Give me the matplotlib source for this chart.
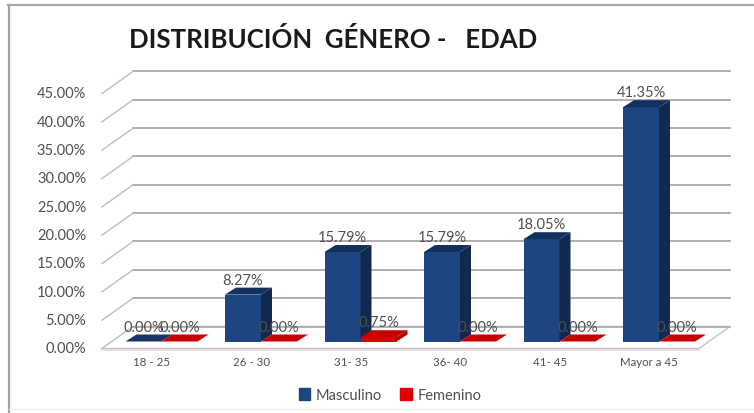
import matplotlib
matplotlib.use('Agg')
import matplotlib.pyplot as plt
from matplotlib.lines import Line2D
from matplotlib.patches import Patch

plt.rcParams['font.family'] = ['Lato', 'DejaVu Sans']

categorias = ['18 - 25', '26 - 30', '31- 35', '36- 40', '41- 45', 'Mayor a 45']
masculino = [0.00, 8.27, 15.79, 15.79, 18.05, 41.35]
femenino = [0.00, 0.00, 0.75, 0.00, 0.00, 0.00]
ticks = [0, 5, 10, 15, 20, 25, 30, 35, 40, 45]

W, H = 754, 414
X0, CAT_PX = 102, 99.5      # pixel del origen y ancho de categoria
Y0, PCT_PX = 349.5, 5.667   # pixel del 0% y pixeles por punto

# profundidad del piso 3D en unidades de datos
DX, DY = 31 / CAT_PX, 22 / PCT_PX
BAR_W = 36 / CAT_PX
BAR_SHIFT = 23.5 / CAT_PX
BASE_DY = 7 / PCT_PX
BAR_DX, BAR_DY = 11 / CAT_PX, 7 / PCT_PX

GRID = '#a9a9a9'
TEXT = '#505050'

fig = plt.figure(figsize=(W / 100, H / 100), dpi=100)
ax = fig.add_axes([0, 0, 1, 1])
ax.set_xlim(-X0 / CAT_PX, (W - X0) / CAT_PX)
ax.set_ylim((Y0 - H) / PCT_PX, Y0 / PCT_PX)
ax.axis('off')

# Marco del grafico: izquierda y arriba marcados, abajo casi no se ve
fig.add_artist(Line2D([8.5 / W, 8.5 / W], [1 - 6 / H, 1 - 414 / H], transform=fig.transFigure,
                      color='#a0a0a0', lw=1.6))
fig.add_artist(Line2D([8 / W, 1], [1 - 6 / H, 1 - 6 / H], transform=fig.transFigure,
                      color='#a8a8a8', lw=1.6))
fig.add_artist(Line2D([9 / W, 1], [1 - 409.5 / H, 1 - 409.5 / H], transform=fig.transFigure,
                      color='#f0f0f0', lw=1.0))

# Paredes y lineas de division
for t in ticks:
    if t > 0:
        ax.plot([DX, 6 + DX], [t + DY, t + DY], color=GRID, lw=1.3, zorder=1)
    ax.plot([0, DX], [t, t + DY], color='#bdbdbd', lw=1.0, zorder=1)
    ax.text(-0.16, t, f'{t:.2f}%', ha='right', va='center', fontsize=10.5, color=TEXT)

# Piso
ax.fill([0, 6, 6 + DX, DX], [0, 0, DY, DY], facecolor='white', edgecolor='#c4c4c4', lw=1.0, zorder=1.5)
ax.plot([DX, 6 + DX], [DY, DY], color=GRID, lw=1.2, zorder=1.6)
ax.plot([0, 6], [-0.25, -0.25], color='#f3dcdc', lw=1.6, zorder=1.4)


def barra(x, alto, front, side, top):
    y = BASE_DY
    ax.bar(x, alto, BAR_W, bottom=y, align='edge', color=front, linewidth=0, zorder=3)
    ax.fill([x + BAR_W, x + BAR_W + BAR_DX, x + BAR_W + BAR_DX, x + BAR_W],
            [y, y + BAR_DY, y + alto + BAR_DY, y + alto], color=side, linewidth=0, zorder=3)
    ax.fill([x, x + BAR_W, x + BAR_W + BAR_DX, x + BAR_DX],
            [y + alto, y + alto, y + alto + BAR_DY, y + alto + BAR_DY], color=top, linewidth=0, zorder=3)


for i, (m, f) in enumerate(zip(masculino, femenino)):
    xm = i + BAR_SHIFT
    xf = xm + BAR_W
    barra(xm, m, '#1d4582', '#12294f', '#14305e' if m > 0 else '#1a3563')
    barra(xf, f, '#e00000', '#a80000', '#c80000')
    ax.text(xm + BAR_W / 2, BASE_DY + m + BAR_DY + 1.4, f'{m:.2f}%', ha='center', va='center',
            fontsize=10.5, color=TEXT, zorder=5)
    ax.text(xf + BAR_W / 2, BASE_DY + f + BAR_DY + 1.4, f'{f:.2f}%', ha='center', va='center',
            fontsize=10.5, color=TEXT, zorder=5)
    ax.text(i + 0.5, -13.5 / PCT_PX, categorias[i], ha='center', va='center', fontsize=8.3, color=TEXT)

fig.text(129 / W, 1 - 40 / H, 'DISTRIBUCIÓN  GÉNERO -   EDAD', ha='left', va='center',
         fontsize=18.5, fontweight='bold', color='#1a1a1a')

handles = [Patch(color='#1d4582', label='Masculino'), Patch(color='#e00000', label='Femenino')]
fig.legend(handles=handles, loc='center', bbox_to_anchor=(390 / W, 1 - 396 / H), ncol=2, frameon=False,
           fontsize=10.5, handlelength=0.8, handleheight=0.8, handletextpad=0.4, columnspacing=1.2,
           labelcolor=TEXT)

fig.savefig('out.png', dpi=100)
